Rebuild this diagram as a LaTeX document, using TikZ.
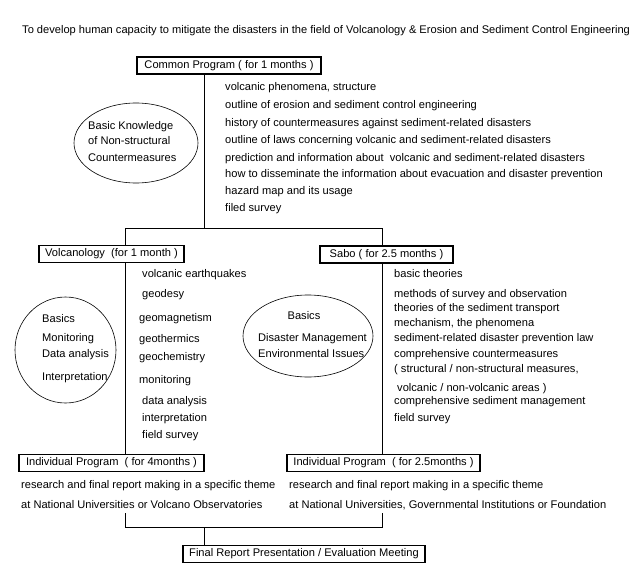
\documentclass[tikz,border=0pt]{standalone}
\usepackage{fontspec}
\setmainfont{Liberation Sans}
\usetikzlibrary{shapes.geometric}
\begin{document}
\begin{tikzpicture}[x=1pt,y=-1pt,
  txt/.style={inner sep=0pt,anchor=base west,font=\fontsize{11.1}{13}\selectfont},
  prog/.style={draw,line width=1.2pt,fill=white,inner xsep=3pt,inner ysep=0pt,minimum height=17pt,font=\fontsize{11.1}{13}\selectfont},
  conn/.style={line width=0.8pt},
  oval/.style={draw,ellipse,line width=0.6pt,inner sep=0pt}]
\useasboundingbox (0,0) rectangle (635,578);
% title
\node[txt] (title) at (22,34) {To develop human capacity to mitigate the disasters in the field of Volcanology \& Erosion and Sediment Control Engineering};
% boxes
\node[prog,minimum width=184pt] (common) at (229,65.5) {Common Program ( for 1 months )};
\node[prog,minimum width=145pt] (volc) at (111.5,254) {Volcanology\ \ (for 1 month )};
\node[prog,minimum width=133pt] (sabo) at (386.5,254.5) {Sabo ( for 2.5 months )};
\node[prog,minimum width=185pt] (ind1) at (111.5,463) {Individual Program\ \ ( for 4months )};
\node[prog,minimum width=193pt] (ind2) at (383.5,463) {Individual Program\ \ ( for 2.5months )};
\node[prog,minimum width=242pt] (final) at (304,554) {Final Report Presentation / Evaluation Meeting};
% junctions
\coordinate (jc) at (204,228);
\coordinate (jl) at (125.5,228);
\coordinate (jr) at (382.5,228);
\coordinate (bl) at (125.5,513);
\coordinate (br) at (382.5,513);
\coordinate (bm) at (204,527);
% connectors
\draw[conn] (common.south -| jc) -- (jc);
\draw[conn] (jl) -- (jr);
\draw[conn] (jl) -- (volc.north -| jl);
\draw[conn] (volc.south -| jl) -- (ind1.north -| jl);
\draw[conn] (jr) -- (sabo.north -| jr);
\draw[conn] (sabo.south -| jr) -- (ind2.north -| jr);
\draw[conn] (bl) -- (bl |- bm) -- (br |- bm) -- (br);
\draw[conn] (bm) -- (final.north -| bm);
% ellipses
\node[oval,minimum width=124pt,minimum height=80pt] (e1) at (136,143) {};
\node[oval,minimum width=101pt,minimum height=106pt] (e2) at (65.5,350) {};
\node[oval,minimum width=130pt,minimum height=82pt] (e3) at (308,336) {};
% ellipse texts
\node[txt] (e1a) at (88,129) {Basic Knowledge};
\node[txt] (e1b) at (88,144) {of Non-structural};
\node[txt] (e1c) at (88,161) {Countermeasures};
\node[txt] (e2a) at (42,322) {Basics};
\node[txt] (e2b) at (42,341) {Monitoring};
\node[txt] (e2c) at (42,357) {Data analysis};
\node[txt] (e2d) at (42,380) {Interpretation};
\node[txt,anchor=base] (e3a) at (304,319) {Basics};
\node[txt] (e3b) at (258,341) {Disaster Management};
\node[txt] (e3c) at (258,357) {Environmental Issues};
% common list
\node[txt] (c1) at (225,91) {volcanic phenomena, structure};
\node[txt] (c2) at (225,109) {outline of erosion and sediment control engineering};
\node[txt] (c3) at (225,127) {history of countermeasures against sediment-related disasters};
\node[txt] (c4) at (225,143) {outline of laws concerning volcanic and sediment-related disasters};
\node[txt] (c5) at (225,161) {prediction and information about\ \ volcanic and sediment-related disasters};
\node[txt] (c6) at (225,177) {how to disseminate the information about evacuation and disaster prevention};
\node[txt] (c7) at (225,194) {hazard map and its usage};
\node[txt] (c8) at (225,211) {filed survey};
% volcanology list
\node[txt] (v1) at (142,277) {volcanic earthquakes};
\node[txt] (v2) at (142,297) {geodesy};
\node[txt] (v3) at (139,321) {geomagnetism};
\node[txt] (v4) at (139,342) {geothermics};
\node[txt] (v5) at (139,360) {geochemistry};
\node[txt] (v6) at (139,383) {monitoring};
\node[txt] (v7) at (142,404) {data analysis};
\node[txt] (v8) at (142,421) {interpretation};
\node[txt] (v9) at (142,438) {field survey};
% sabo list
\node[txt] (s1) at (394,277) {basic theories};
\node[txt] (s2) at (394,297) {methods of survey and observation};
\node[txt] (s3) at (394,311) {theories of the sediment transport};
\node[txt] (s4) at (394,326) {mechanism, the phenomena};
\node[txt] (s5) at (394,341) {sediment-related disaster prevention law};
\node[txt] (s6) at (394,357) {comprehensive countermeasures};
\node[txt] (s7) at (394,372) {( structural / non-structural measures,};
\node[txt] (s8) at (397,391) {volcanic / non-volcanic areas )};
\node[txt] (s9) at (394,404) {comprehensive sediment management};
\node[txt] (s10) at (394,421) {field survey};
% individual texts
\node[txt] (i1a) at (21,488) {research and final report making in a specific theme};
\node[txt] (i1b) at (21,508) {at National Universities or Volcano Observatories};
\node[txt] (i2a) at (289,488) {research and final report making in a specific theme};
\node[txt] (i2b) at (289,508) {at National Universities, Governmental Institutions or Foundation};
\end{tikzpicture}
\end{document}
